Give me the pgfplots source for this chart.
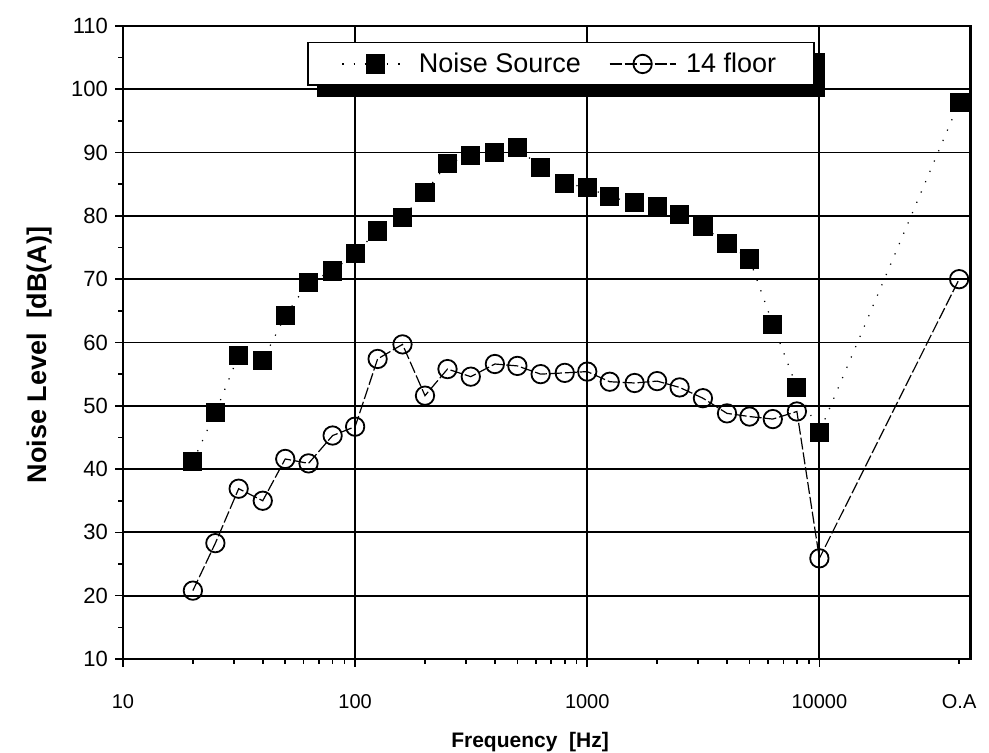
\documentclass[border=0pt]{standalone}
\usepackage{fontspec}
\setmainfont{Liberation Sans}
\usepackage{pgfplots}
\pgfplotsset{compat=1.18}
\pgfdeclarelayer{background}
\pgfsetlayers{background,main}

% 1/3-octave band levels; the last column (40000) stands for the overall level (O.A)
\begin{document}
\begin{tikzpicture}
\begin{axis}[
  scale only axis,
  width=424pt, height=316.5pt,
  xmode=log,
  xmin=10, xmax=45000,
  ymin=10, ymax=110,
  xtick={10,100,1000,10000},
  xticklabels={10,100,1000,10000},
  extra x ticks={40000},
  extra x tick labels={O.A},
  extra x tick style={grid=none, major tick length=2.5pt,
    tick label style={yshift=-1.5pt}},
  ytick={10,20,...,110},
  minor y tick num=1,
  xmajorgrids, ymajorgrids,
  grid style={black, line width=0.9pt},
  axis line style={black, line width=1.1pt},
  tick style={black, line width=0.8pt},
  tick align=outside,
  major tick length=4pt,
  minor tick length=2.5pt,
  xtick pos=bottom, ytick pos=left,
  /pgf/number format/assume math mode=true,
  xticklabel style={font=\fontsize{10}{12}\selectfont, yshift=-10pt},
  yticklabel style={font=\fontsize{11}{13}\selectfont},
  log ticks with fixed point,
  xlabel={\textbf{Frequency\ \ [Hz]}},
  ylabel={\textbf{Noise Level\ \ [dB(A)]}},
  xlabel style={font=\fontsize{10.5}{12}\selectfont, at={(axis description cs:0.48,-0.131)}, anchor=center},
  ylabel style={font=\fontsize{13.5}{15}\selectfont, at={(axis description cs:-0.098,0.48)}, anchor=center, rotate=0},
  legend columns=-1,
  legend style={
    name=srclegend,
    at={(0.5165,0.94)}, anchor=center,
    draw=black, line width=0.8pt, fill=white,
    font=\fontsize{13.5}{16}\selectfont,
    inner xsep=17pt, inner ysep=3pt,
    /tikz/every odd column/.append style={column sep=3pt},
    /tikz/every even column/.append style={column sep=12pt},
  },
  legend image code/.code={
    \draw[mark repeat=2, mark phase=2, #1]
      plot coordinates {(0cm,0cm) (0.58cm,0cm) (1.16cm,0cm)};
  },
]
\addplot[black, line width=0.6pt, dash pattern=on 0.6pt off 5pt,
  mark=square*, mark size=4.5pt, mark options={solid, fill=black}]
  coordinates {
  (20,41.2) (25,48.9) (31.5,58.0) (40,57.2) (50,64.2) (63,69.5) (80,71.3)
  (100,74.1) (125,77.6) (160,79.7) (200,83.7) (250,88.3) (315,89.5)
  (400,90.0) (500,90.8) (630,87.6) (800,85.1) (1000,84.5) (1250,83.0)
  (1600,82.1) (2000,81.5) (2500,80.2) (3150,78.3) (4000,75.6) (5000,73.2)
  (6300,62.9) (8000,52.9) (10000,45.8) (40000,97.9)
  };
\addlegendentry{Noise Source}
\addplot[black, line width=0.6pt, dash pattern=on 6pt off 1.5pt,
  mark=o, mark size=4.6pt, mark options={solid, fill=white, line width=0.9pt}]
  coordinates {
  (20,20.8) (25,28.3) (31.5,36.9) (40,35.0) (50,41.6) (63,40.9) (80,45.3)
  (100,46.7) (125,57.4) (160,59.7) (200,51.6) (250,55.8) (315,54.6)
  (400,56.6) (500,56.3) (630,55.0) (800,55.2) (1000,55.4) (1250,53.8)
  (1600,53.6) (2000,53.9) (2500,52.9) (3150,51.2) (4000,48.8) (5000,48.3)
  (6300,47.9) (8000,49.1) (10000,25.9) (40000,70.0)
  };
\addlegendentry{14 floor}
% heavier right frame line
\draw[black, line width=2pt] (rel axis cs:1,0) -- (rel axis cs:1,1);
\end{axis}
% solid drop shadow behind the legend box
\begin{pgfonlayer}{background}
  \fill[black] ([shift={(5pt,-5.5pt)}]srclegend.south west) rectangle ([shift={(5pt,-5.5pt)}]srclegend.north east);
\end{pgfonlayer}
\pgfresetboundingbox
\path ([shift={(-61.5pt,-47pt)}]current axis.south west) rectangle ([shift={(9pt,13pt)}]current axis.north east);
\end{tikzpicture}
\end{document}
